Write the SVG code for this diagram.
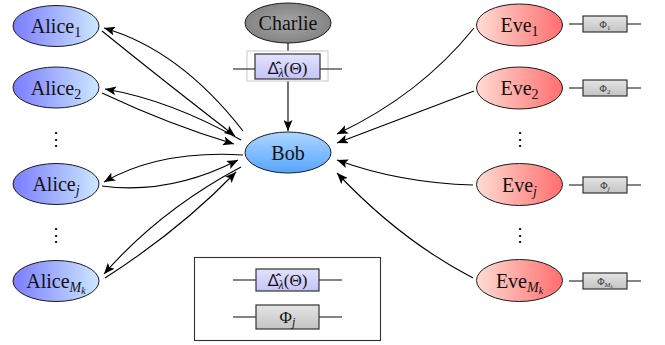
<svg xmlns="http://www.w3.org/2000/svg" width="665" height="345" viewBox="0 0 665 345">
<defs>
<linearGradient id="gAlice" x1="0" y1="0" x2="1" y2="0"><stop offset="0" stop-color="#7a7cff"/><stop offset="1" stop-color="#cde8ff"/></linearGradient>
<linearGradient id="gEve" x1="0" y1="0" x2="1" y2="0"><stop offset="0" stop-color="#ffdcd4"/><stop offset="1" stop-color="#ff6e6e"/></linearGradient>
<linearGradient id="gBob" x1="0" y1="0" x2="0" y2="1"><stop offset="0" stop-color="#acd6ff"/><stop offset="1" stop-color="#57a5ff"/></linearGradient>
<radialGradient id="gCharlie" cx="0.5" cy="0.5" r="0.6"><stop offset="0" stop-color="#a6a6a6"/><stop offset="1" stop-color="#7e7e7e"/></radialGradient>
<linearGradient id="gDelta" x1="0" y1="0" x2="0" y2="1"><stop offset="0" stop-color="#e2e2ff"/><stop offset="1" stop-color="#c4c4fa"/></linearGradient>
<linearGradient id="gPhi" x1="0" y1="0" x2="0" y2="1"><stop offset="0" stop-color="#e4e4e4"/><stop offset="1" stop-color="#c4c4c4"/></linearGradient>
<marker id="arr" markerUnits="userSpaceOnUse" markerWidth="12" markerHeight="9" refX="11" refY="4.5" orient="auto">
<path d="M0,0 L11,4.5 L0,9 L2.5,4.5 Z" fill="#000"/>
</marker>
</defs>
<style>
.node{stroke:#1a1a1a;stroke-width:1}
.lbl{font-size:20px;fill:#111;text-anchor:middle}
.sub{font-size:14px}
.ssub{font-size:10px}
.it{font-style:italic}
.conn{fill:none;stroke:#000;stroke-width:1.1}
.wire{stroke:#333;stroke-width:1.2}
.phibox{fill:url(#gPhi);stroke:#333;stroke-width:1.2}
.dbox{fill:url(#gDelta);stroke:#333;stroke-width:1.2}
.small{font-size:10px;fill:#333;text-anchor:middle}
.mid{font-size:17px;fill:#111;text-anchor:middle}
.dh{font-family:'Noto Sans','DejaVu Sans',sans-serif}
.dots{font-size:18px;fill:#000;text-anchor:middle}
</style>

<g id="connectors">
<path class="conn" d="M243,131 Q180,50 104,28" marker-end="url(#arr)"/>
<path class="conn" d="M102,31 Q165,82 235,136" marker-end="url(#arr)"/>
<path class="conn" d="M241,140 Q170,100 105,89" marker-end="url(#arr)"/>
<path class="conn" d="M102,93 Q170,125 234,144" marker-end="url(#arr)"/>
<path class="conn" d="M243,155 Q160,150 104,182" marker-end="url(#arr)"/>
<path class="conn" d="M102,186 Q170,195 238,160" marker-end="url(#arr)"/>
<path class="conn" d="M241,167 Q160,210 104,274" marker-end="url(#arr)"/>
<path class="conn" d="M105,278 Q180,230 236,172" marker-end="url(#arr)"/>
<path class="conn" d="M474,28 Q420,95 337,134" marker-end="url(#arr)"/>
<path class="conn" d="M474,91 Q410,115 337,143" marker-end="url(#arr)"/>
<path class="conn" d="M473,185 Q400,183 337,160" marker-end="url(#arr)"/>
<path class="conn" d="M473,278 Q400,240 337,173" marker-end="url(#arr)"/>
<line class="conn" x1="288" y1="43" x2="288" y2="51"/>
<line class="conn" x1="288" y1="81" x2="288" y2="131" marker-end="url(#arr)"/>
</g>

<g font-family="'Liberation Serif','Times New Roman','DejaVu Serif','Noto Serif',serif">
<g id="alice1"><ellipse class="node" cx="56" cy="26" rx="43" ry="20.5" fill="url(#gAlice)"/><text class="lbl" x="56" y="33">Alice<tspan class="sub" dy="4">1</tspan></text></g>
<g id="alice2"><ellipse class="node" cx="56" cy="87.5" rx="43" ry="20.5" fill="url(#gAlice)"/><text class="lbl" x="56" y="94.5">Alice<tspan class="sub" dy="4">2</tspan></text></g>
<g id="alicej"><ellipse class="node" cx="56" cy="184" rx="43" ry="20.5" fill="url(#gAlice)"/><text class="lbl" x="56" y="191">Alice<tspan class="sub it" dy="4">j</tspan></text></g>
<g id="aliceMk"><ellipse class="node" cx="56" cy="281" rx="43" ry="20.5" fill="url(#gAlice)"/><text class="lbl" x="56" y="288">Alice<tspan class="sub it" dy="4">M</tspan><tspan class="ssub it" dy="2">k</tspan></text></g>
<g id="alice-dots"><text class="dots" x="56" y="145">⋮</text><text class="dots" x="56" y="241">⋮</text></g>

<g id="bob"><ellipse class="node" cx="288" cy="152.5" rx="43" ry="20.5" fill="url(#gBob)"/><text class="lbl" x="288" y="159.5">Bob</text></g>

<g id="charlie"><ellipse class="node" cx="288" cy="23" rx="43" ry="20" fill="url(#gCharlie)"/><text class="lbl" x="288" y="30">Charlie</text></g>
<g id="charlie-op">
<rect x="247" y="51" width="81" height="30" fill="none" stroke="#c8c8c8" stroke-width="1"/>
<line class="wire" x1="233" y1="69" x2="255" y2="69"/><line class="wire" x1="320" y1="69" x2="342" y2="69"/>
<rect class="dbox" x="255" y="54" width="65" height="25"/>
<text class="mid" x="287.5" y="74"><tspan class="dh">Δ̂</tspan><tspan class="it" font-size="12" dy="3">λ</tspan><tspan dy="-3">(Θ)</tspan></text>
</g>

<g id="eve1"><ellipse class="node" cx="519.5" cy="25" rx="43" ry="21" fill="url(#gEve)"/><text class="lbl" x="519.5" y="32">Eve<tspan class="sub" dy="4">1</tspan></text>
<line class="wire" x1="569" y1="24" x2="583" y2="24"/><line class="wire" x1="627" y1="24" x2="641" y2="24"/><rect class="phibox" x="583" y="16" width="44" height="16"/><text class="small" x="605" y="28">Φ<tspan font-size="7" dy="2">1</tspan></text></g>
<g id="eve2"><ellipse class="node" cx="519.5" cy="88" rx="43" ry="21" fill="url(#gEve)"/><text class="lbl" x="519.5" y="95">Eve<tspan class="sub" dy="4">2</tspan></text>
<line class="wire" x1="569" y1="88" x2="583" y2="88"/><line class="wire" x1="627" y1="88" x2="641" y2="88"/><rect class="phibox" x="583" y="80" width="44" height="16"/><text class="small" x="605" y="92">Φ<tspan font-size="7" dy="2">2</tspan></text></g>
<g id="evej"><ellipse class="node" cx="519.5" cy="184.5" rx="43" ry="21" fill="url(#gEve)"/><text class="lbl" x="519.5" y="191.5">Eve<tspan class="sub it" dy="4">j</tspan></text>
<line class="wire" x1="569" y1="185" x2="583" y2="185"/><line class="wire" x1="627" y1="185" x2="641" y2="185"/><rect class="phibox" x="583" y="177" width="44" height="16"/><text class="small" x="605" y="189">Φ<tspan class="it" font-size="7" dy="2">j</tspan></text></g>
<g id="eveMk"><ellipse class="node" cx="519.5" cy="280.5" rx="43" ry="21" fill="url(#gEve)"/><text class="lbl" x="519.5" y="287.5">Eve<tspan class="sub it" dy="4">M</tspan><tspan class="ssub it" dy="2">k</tspan></text>
<line class="wire" x1="569" y1="281" x2="583" y2="281"/><line class="wire" x1="627" y1="281" x2="641" y2="281"/><rect class="phibox" x="583" y="273" width="44" height="16"/><text class="small" x="605" y="285">Φ<tspan class="it" font-size="7" dy="2">M</tspan><tspan class="it" font-size="5" dy="1">k</tspan></text></g>
<g id="eve-dots"><text class="dots" x="519.5" y="145">⋮</text><text class="dots" x="519.5" y="241">⋮</text></g>

<g id="legend">
<rect x="194.5" y="257.5" width="186" height="83" fill="#fff" stroke="#333" stroke-width="1.1"/>
<line class="wire" x1="233" y1="280" x2="256" y2="280"/><line class="wire" x1="319" y1="280" x2="342" y2="280"/>
<rect class="dbox" x="256" y="269" width="63" height="22"/>
<text class="mid" x="287.5" y="286"><tspan class="dh">Δ̂</tspan><tspan class="it" font-size="12" dy="3">λ</tspan><tspan dy="-3">(Θ)</tspan></text>
<line class="wire" x1="233" y1="317" x2="256" y2="317"/><line class="wire" x1="319" y1="317" x2="342" y2="317"/>
<rect class="phibox" x="256" y="305" width="63" height="24"/>
<text class="mid" x="287.5" y="323">Φ<tspan class="it" font-size="12" dy="3">j</tspan></text>
</g>
</g>
</svg>
